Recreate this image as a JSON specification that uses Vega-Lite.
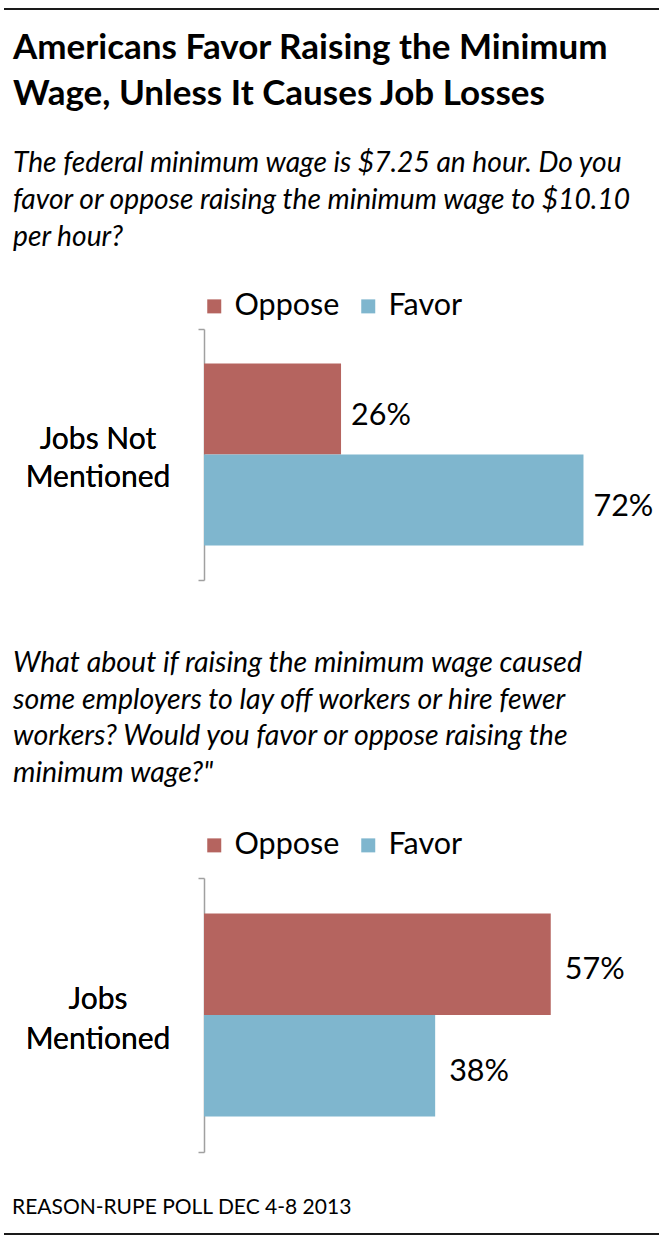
{
  "$schema": "https://vega.github.io/schema/vega-lite/v6.json",
  "background": "white",
  "padding": {"top": 8, "left": 3, "right": 0, "bottom": 0},
  "config": {"font": "Lato", "view": {"stroke": null}},
  "spacing": 20,
  "resolve": {"scale": {"x": "independent", "y": "independent", "color": "independent", "yOffset": "independent"}, "legend": {"color": "independent"}},
  "vconcat": [
    {
      "data": {"values": [{"line": "top"}]},
      "width": 655,
      "height": 2,
      "mark": {"type": "rule", "color": "#1a1a1a", "strokeWidth": 2},
      "encoding": {
        "x": {"datum": 0, "type": "quantitative", "scale": {"domain": [0, 1]}, "axis": null},
        "x2": {"datum": 1}
      }
    },
    {
      "spacing": 68,
      "resolve": {"scale": {"x": "independent", "y": "independent", "color": "independent", "yOffset": "independent"}, "legend": {"color": "independent"}},
      "vconcat": [
        {
          "data": {"values": [
            {"question": "Jobs Not\nMentioned", "response": "Oppose", "share": 0.26},
            {"question": "Jobs Not\nMentioned", "response": "Favor", "share": 0.72}
          ]},
          "title": {
            "text": ["Americans Favor Raising the Minimum", "Wage, Unless It Causes Job Losses"],
            "subtitle": ["The federal minimum wage is $7.25 an hour. Do you", "favor or oppose raising the minimum wage to $10.10", "per hour?"],
            "anchor": "start", "frame": "bounds", "dx": 9,
            "font": "Lato", "fontSize": 35, "fontWeight": "bold", "lineHeight": 46, "color": "black",
            "subtitleFont": "Lato", "subtitleFontSize": 28.2, "subtitleFontStyle": "italic", "subtitleLineHeight": 37, "subtitleColor": "black",
            "subtitlePadding": 38, "offset": 40
          },
          "spacing": 5,
          "resolve": {"scale": {"y": "independent", "color": "independent"}, "legend": {"color": "independent"}},
          "hconcat": [
            {
              "width": 188,
              "height": 251,
              "mark": {"type": "text", "align": "center", "baseline": "middle", "lineBreak": "\n", "lineHeight": 38, "dy": -15, "font": "Lato", "fontSize": 30, "color": "black"},
              "encoding": {
                "y": {"field": "question", "type": "nominal", "scale": {"paddingInner": 0, "paddingOuter": 0}, "axis": null},
                "text": {"field": "question", "type": "nominal"}
              }
            },
            {
              "width": 448,
              "height": 251,
              "encoding": {
                "y": {"field": "question", "type": "nominal", "scale": {"paddingInner": 0, "paddingOuter": 0},
                  "axis": {"title": null, "labels": false, "domainColor": "#a0a0a0", "domainWidth": 1.5, "tickBand": "extent", "tickColor": "#a0a0a0", "tickWidth": 1.5, "tickSize": 6}},
                "yOffset": {"field": "response", "type": "nominal", "sort": ["Oppose", "Favor"], "scale": {"paddingInner": 0, "paddingOuter": 0.379}},
                "x": {"field": "share", "type": "quantitative", "scale": {"domain": [0, 0.85]}, "axis": null}
              },
              "layer": [
                {
                  "mark": {"type": "bar"},
                  "encoding": {
                    "color": {"field": "response", "type": "nominal", "sort": ["Oppose", "Favor"],
                      "scale": {"domain": ["Oppose", "Favor"], "range": ["#b5645f", "#7fb6ce"]},
                      "legend": {"title": null, "orient": "none", "direction": "horizontal", "legendX": -5, "legendY": -38,
                        "symbolType": "square", "symbolSize": 196, "symbolStrokeWidth": 0, "labelFont": "Lato", "labelFontSize": 30.5, "labelColor": "black", "labelOffset": 5, "columnPadding": 13}}
                  }
                },
                {
                  "mark": {"type": "text", "align": "left", "baseline": "middle", "dx": 10, "dy": 7, "font": "Lato", "fontSize": 30.5, "color": "black"},
                  "encoding": {"text": {"field": "share", "type": "quantitative", "format": ".0%"}}
                }
              ]
            }
          ]
        },
        {
          "spacing": 44,
          "resolve": {"scale": {"x": "independent", "y": "independent", "color": "independent", "yOffset": "independent"}, "legend": {"color": "independent"}},
          "vconcat": [
            {
              "data": {"values": [
                {"question": "Jobs\nMentioned", "response": "Oppose", "share": 0.57},
                {"question": "Jobs\nMentioned", "response": "Favor", "share": 0.38}
              ]},
              "title": {
                "text": ["What about if raising the minimum wage caused", "some employers to lay off workers or hire fewer", "workers? Would you favor or oppose raising the", "minimum wage?\""],
                "anchor": "start", "frame": "bounds", "dx": 9,
                "font": "Lato", "fontSize": 28.5, "fontWeight": "normal", "fontStyle": "italic", "lineHeight": 36.5, "color": "black",
                "offset": 43
              },
              "spacing": 5,
              "resolve": {"scale": {"y": "independent", "color": "independent"}, "legend": {"color": "independent"}},
              "hconcat": [
                {
                  "width": 188,
                  "height": 274,
                  "mark": {"type": "text", "align": "center", "baseline": "middle", "lineBreak": "\n", "lineHeight": 40, "dy": -15, "font": "Lato", "fontSize": 30, "color": "black"},
                  "encoding": {
                    "y": {"field": "question", "type": "nominal", "scale": {"paddingInner": 0, "paddingOuter": 0}, "axis": null},
                    "text": {"field": "question", "type": "nominal"}
                  }
                },
                {
                  "width": 438,
                  "height": 274,
                  "encoding": {
                    "y": {"field": "question", "type": "nominal", "scale": {"paddingInner": 0, "paddingOuter": 0},
                      "axis": {"title": null, "labels": false, "domainColor": "#a0a0a0", "domainWidth": 1.5, "tickBand": "extent", "tickColor": "#a0a0a0", "tickWidth": 1.5, "tickSize": 6}},
                    "yOffset": {"field": "response", "type": "nominal", "sort": ["Oppose", "Favor"], "scale": {"paddingInner": 0, "paddingOuter": 0.35}},
                    "x": {"field": "share", "type": "quantitative", "scale": {"domain": [0, 0.72]}, "axis": null}
                  },
                  "layer": [
                    {
                      "mark": {"type": "bar"},
                      "encoding": {
                        "color": {"field": "response", "type": "nominal", "sort": ["Oppose", "Favor"],
                          "scale": {"domain": ["Oppose", "Favor"], "range": ["#b5645f", "#7fb6ce"]},
                          "legend": {"title": null, "orient": "none", "direction": "horizontal", "legendX": -5, "legendY": -48,
                            "symbolType": "square", "symbolSize": 196, "symbolStrokeWidth": 0, "labelFont": "Lato", "labelFontSize": 30.5, "labelColor": "black", "labelOffset": 5, "columnPadding": 13}}
                      }
                    },
                    {
                      "mark": {"type": "text", "align": "left", "baseline": "middle", "dx": 14, "dy": 6, "font": "Lato", "fontSize": 30.5, "color": "black"},
                      "encoding": {"text": {"field": "share", "type": "quantitative", "format": ".0%"}}
                    }
                  ]
                }
              ]
            },
            {
              "data": {"values": [{"line": "bottom"}]},
              "title": {"text": "REASON-RUPE POLL DEC 4-8 2013", "anchor": "start", "frame": "bounds", "dx": 9, "font": "Lato", "fontSize": 21, "fontWeight": "normal", "color": "black", "offset": 15},
              "width": 655,
              "height": 2,
              "mark": {"type": "rule", "color": "#1a1a1a", "strokeWidth": 2},
              "encoding": {
                "x": {"datum": 0, "type": "quantitative", "scale": {"domain": [0, 1]}, "axis": null},
                "x2": {"datum": 1}
              }
            }
          ]
        }
      ]
    }
  ]
}
